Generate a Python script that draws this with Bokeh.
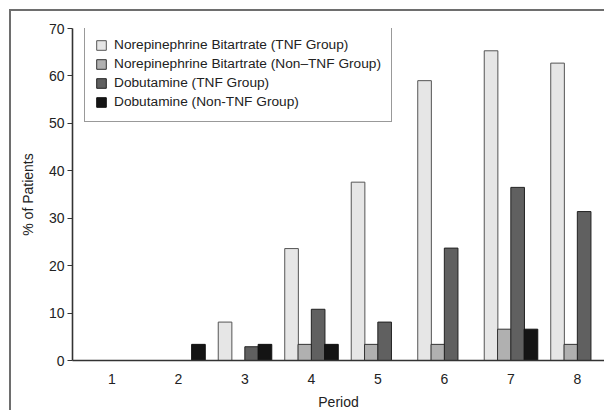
from bokeh.plotting import figure
from bokeh.models import ColumnDataSource, Range1d, Legend, LegendItem, FixedTicker
from bokeh.transform import dodge
from bokeh.embed import file_html
from bokeh.resources import INLINE

periods = [1, 2, 3, 4, 5, 6, 7, 8]
ne_tnf = [0, 0, 8.1, 23.6, 37.6, 59.0, 65.3, 62.7]
ne_non = [0, 0, 0, 3.4, 3.4, 3.4, 6.6, 3.4]
dob_tnf = [0, 0, 2.9, 10.8, 8.1, 23.7, 36.5, 31.4]
dob_non = [0, 3.4, 3.4, 3.4, 0, 0, 6.6, 0]
labels = ["Norepinephrine Bitartrate (TNF Group)",
          "Norepinephrine Bitartrate (Non\u2013TNF Group)",
          "Dobutamine (TNF Group)",
          "Dobutamine (Non-TNF Group)"]
y_ticks = [0, 10, 20, 30, 40, 50, 60, 70]

FONT = "Liberation Sans"

src = ColumnDataSource(dict(period=periods, a=ne_tnf, b=ne_non, c=dob_tnf, d=dob_non))

p = figure(width=595, height=401, output_backend="svg", toolbar_location=None,
           x_range=Range1d(0.406, 8.406), y_range=Range1d(0, 70),
           min_border_left=61, min_border_right=2, min_border_top=17, min_border_bottom=50)
p.styles = {"margin-left": "9px", "margin-top": "9px",
            "border-left": "2px solid #6e6e6e", "border-top": "2px solid #6e6e6e"}
p.outline_line_color = None
p.grid.visible = False

w = 0.205
fills = ["#e6e6e6", "#b0b0b0", "#606060", "#141414"]
lines = ["#555555", "#333333", "#222222", "#111111"]
offs = [-0.3, -0.1, 0.1, 0.3]
cols = ["a", "b", "c", "d"]
rs = []
for col, off, fc, lc in zip(cols, offs, fills, lines):
    r = p.vbar(x=dodge("period", off, range=p.x_range), top=col, width=w, bottom=0,
               source=src, fill_color=fc, line_color=lc, line_width=1)
    rs.append(r)

legend = Legend(items=[LegendItem(label=l, renderers=[r]) for l, r in zip(labels, rs)],
                location=(12, 238), padding=10, spacing=0, label_height=19,
                glyph_width=12, glyph_height=12, label_standoff=7,
                label_text_font=FONT, label_text_font_size="13.7px", label_text_color="#222222",
                border_line_color="#333333", border_line_width=1.2, background_fill_alpha=1,
                margin=0)
p.add_layout(legend)

p.yaxis.ticker = FixedTicker(ticks=y_ticks)
p.xaxis.ticker = FixedTicker(ticks=periods)
p.xaxis.minor_tick_line_color = None
p.yaxis.minor_tick_line_color = None
p.yaxis.major_tick_out = 5
p.yaxis.major_tick_in = 0
for ax in (p.xaxis, p.yaxis):
    ax.axis_line_color = "#333333"
    ax.axis_line_width = 1.6
    ax.major_label_text_font = FONT
    ax.major_label_text_font_size = "14px"
    ax.major_label_text_color = "#222222"
    ax.axis_label_text_font = FONT
    ax.axis_label_text_font_size = "14px"
    ax.axis_label_text_font_style = "normal"
    ax.axis_label_text_color = "#222222"
p.yaxis.major_tick_line_color = "#333333"
p.xaxis.major_tick_line_color = None
p.xaxis.axis_label = "Period"
p.yaxis.axis_label = "% of Patients"
p.xaxis.major_label_standoff = 7
p.xaxis.axis_label_standoff = 7
p.yaxis.major_label_standoff = 3
p.yaxis.axis_label_standoff = 10

open("out.html", "w").write(file_html(p, INLINE))
